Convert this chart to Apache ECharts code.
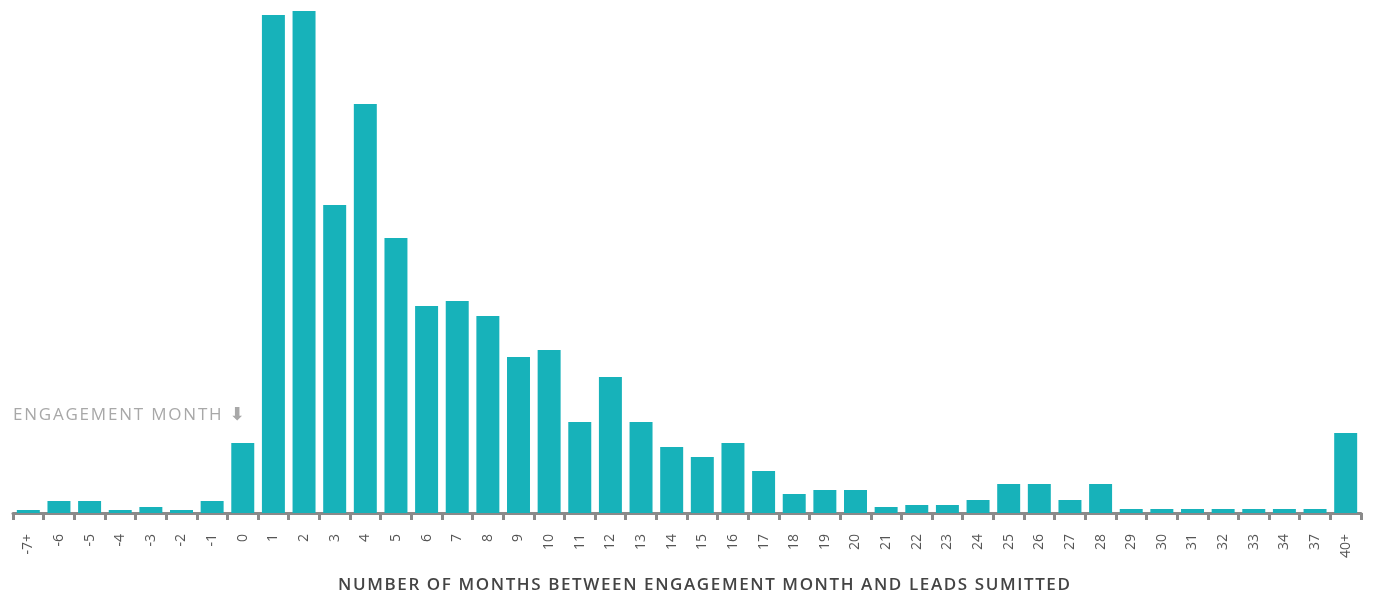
<!DOCTYPE html>
<html>
<head>
<meta charset="utf-8">
<script src="https://cdn.jsdelivr.net/npm/echarts@6/dist/echarts.min.js"></script>
<style>
  html, body { margin: 0; padding: 0; background: #fff; }
  #chart { width: 1373px; height: 596px; }
</style>
</head>
<body>
<div id="chart"></div>
<script>
const months = ['-7+', '-6', '-5', '-4', '-3', '-2', '-1', '0', '1', '2', '3', '4', '5', '6', '7', '8', '9', '10',
  '11', '12', '13', '14', '15', '16', '17', '18', '19', '20', '21', '22', '23', '24', '25', '26', '27', '28',
  '29', '30', '31', '32', '33', '34', '37', '40+']
const leads = [3, 12, 12, 3, 6, 3, 12, 70, 498, 502, 308, 409, 275, 207, 212, 197, 156, 163,
  91, 136, 91, 66, 56, 70, 42, 19, 23, 23, 6, 8, 8, 13, 29, 29, 13, 29,
  4, 4, 4, 4, 4, 4, 4, 80]
const axisTitle = 'NUMBER OF MONTHS BETWEEN ENGAGEMENT MONTH AND LEADS SUMITTED'
const noteText = 'ENGAGEMENT MONTH'

// zrender has no letter-spacing, so wrap each char in a padded rich token
function spaced(str) {
  return str.split('').map(c => '{c|' + c + '}').join('')
}

const chart = echarts.init(document.getElementById('chart'))
chart.setOption({
  animation: false,
  textStyle: { fontFamily: 'Open Sans' },
  grid: { left: 13, right: 12, top: 11, bottom: 83, outerBoundsMode: 'none' },
  xAxis: {
    type: 'category',
    data: months,
    axisLine: { lineStyle: { color: '#8a8a8a', width: 3 } },
    axisTick: { show: true, length: 7, lineStyle: { color: '#8a8a8a', width: 3 } },
    axisLabel: { rotate: 90, color: '#555', fontSize: 14, margin: 21, interval: 0 }
  },
  yAxis: { type: 'value', min: 0, max: 502, show: false },
  series: [{
    type: 'bar',
    data: leads,
    barCategoryGap: '25%',
    itemStyle: { color: '#17b2ba' }
  }],
  graphic: [{
    type: 'text',
    x: 704,
    y: 585,
    style: {
      text: spaced(axisTitle),
      align: 'center',
      verticalAlign: 'middle',
      rich: { c: { fill: '#444', fontSize: 17, fontWeight: 600, fontFamily: 'Open Sans', padding: [0, 0.8] } }
    }
  }, {
    type: 'text',
    x: 12,
    y: 415,
    style: {
      text: spaced(noteText) + '{a|\u2B07}',
      verticalAlign: 'middle',
      rich: {
        c: { fill: '#a8a8a8', fontSize: 17, fontWeight: 500, fontFamily: 'Open Sans', padding: [0, 0.9] },
        a: { fill: '#a8a8a8', fontSize: 18, fontWeight: 'bold', fontFamily: 'DejaVu Sans', padding: [0, 0, 0, 7] }
      }
    }
  }]
})
</script>
</body>
</html>
